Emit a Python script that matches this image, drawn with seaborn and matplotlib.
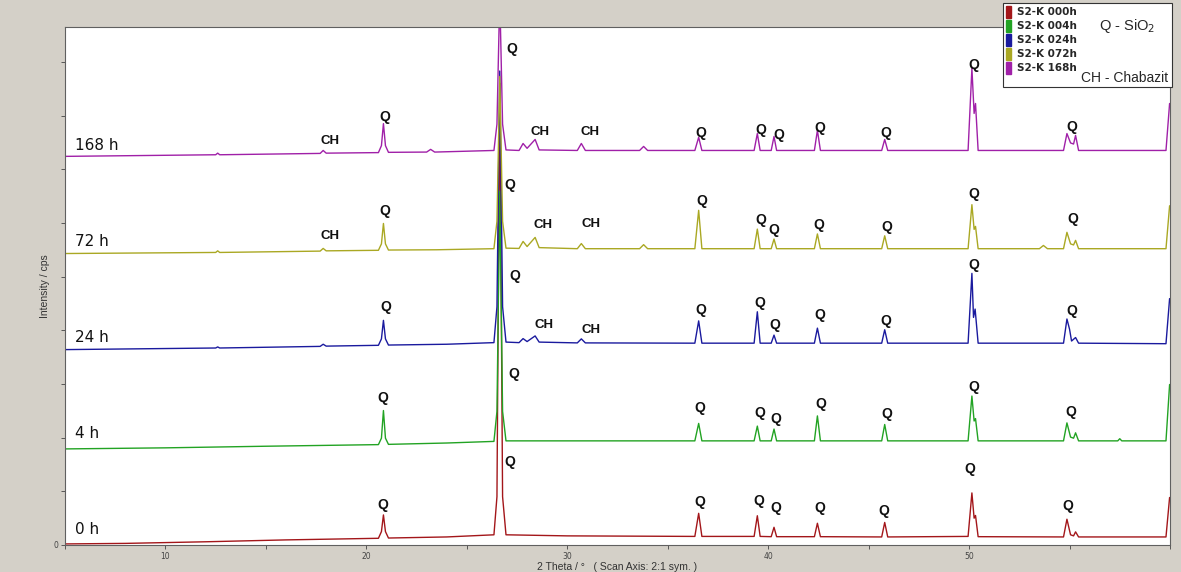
import matplotlib
matplotlib.use("Agg")
import matplotlib.pyplot as plt
from matplotlib.patches import Patch, Rectangle
from matplotlib.ticker import MultipleLocator, FixedLocator
import seaborn as sns
import pandas as pd

##################
# data ###########
##################

samples = ["0 h", "4 h", "24 h", "72 h", "168 h"]
legend_names = ["S2-K 000h", "S2-K 004h", "S2-K 024h", "S2-K 072h", "S2-K 168h"]
colors = ["#a3161a", "#22a323", "#1a1a9e", "#aaa823", "#a020a8"]
offsets = [0, 1790, 3640, 5430, 7240]   # stacking of the patterns, cps

# 2 theta / intensity above the own baseline
tt_000 = [5.0, 8, 12, 16, 20.6, 20.75, 20.85, 20.95, 21.1, 24, 26.35, 26.5, 26.64, 26.78, 26.95, 30,
          36.35, 36.54, 36.7, 39.3, 39.46, 39.6, 40.15, 40.29, 40.42, 42.3, 42.45, 42.6, 45.65, 45.8, 45.95,
          49.95, 50.14, 50.25, 50.32, 50.45, 54.7, 54.87, 55.05, 55.2, 55.3, 55.45, 59.8, 59.98]
i_000 = [20, 30, 60, 95, 125, 250, 560, 250, 130, 150, 190, 900, 8600, 900, 190, 170,
         160, 590, 160, 160, 545, 160, 155, 330, 155, 155, 405, 155, 150, 420, 150,
         160, 970, 500, 550, 155, 150, 480, 190, 170, 245, 150, 150, 885]

tt_004 = [5.0, 10, 15, 20.6, 20.75, 20.85, 20.95, 21.1, 24, 26.35, 26.5, 26.64, 26.78, 26.95, 30,
          36.35, 36.54, 36.7, 39.3, 39.46, 39.6, 40.15, 40.29, 40.42, 42.3, 42.45, 42.6, 45.65, 45.8, 45.95,
          49.95, 50.14, 50.25, 50.32, 50.45, 54.7, 54.87, 55.05, 55.2, 55.3, 55.45, 57.4, 57.5, 57.6, 59.8, 59.98]
i_004 = [0, 20, 50, 80, 200, 715, 200, 85, 110, 140, 700, 4800, 700, 150, 150,
         150, 475, 150, 150, 425, 150, 150, 370, 150, 150, 615, 150, 150, 455, 150,
         150, 985, 520, 565, 150, 150, 485, 220, 200, 300, 150, 150, 190, 150, 150, 1200]

tt_024 = [5.0, 12.5, 12.6, 12.7, 17.7, 17.85, 18.0, 20.6, 20.75, 20.85, 20.95, 21.1, 24,
          26.35, 26.5, 26.64, 26.78, 26.95, 27.6, 27.8, 28.0, 28.4, 28.6, 30.5, 30.7, 30.9,
          36.35, 36.54, 36.7, 39.3, 39.46, 39.6, 40.15, 40.29, 40.42, 42.3, 42.45, 42.6, 45.65, 45.8, 45.95,
          49.95, 50.14, 50.22, 50.3, 50.45, 54.7, 54.87, 55.0, 55.1, 55.3, 55.45, 59.8, 59.98]
i_024 = [0, 30, 50, 30, 60, 100, 65, 80, 200, 545, 200, 85, 100,
         130, 800, 5190, 800, 140, 130, 205, 150, 255, 140, 125, 200, 125,
         120, 535, 120, 120, 705, 120, 120, 270, 120, 120, 400, 120, 120, 370, 120,
         120, 1420, 600, 755, 120, 120, 570, 380, 160, 225, 120, 110, 950]

tt_072 = [5.0, 12.5, 12.6, 12.7, 17.7, 17.85, 18.0, 20.6, 20.75, 20.85, 20.95, 21.1, 23.5,
          26.35, 26.5, 26.64, 26.78, 26.95, 27.6, 27.8, 28.0, 28.4, 28.6, 30.5, 30.7, 30.9, 33.6, 33.8, 34.0,
          36.35, 36.54, 36.7, 39.3, 39.46, 39.6, 40.15, 40.29, 40.42, 42.3, 42.45, 42.6, 45.65, 45.8, 45.95,
          49.95, 50.14, 50.25, 50.32, 50.45, 53.5, 53.7, 53.9, 54.7, 54.87, 55.05, 55.2, 55.3, 55.45, 59.8, 59.98]
i_072 = [0, 20, 50, 20, 45, 95, 50, 60, 180, 560, 180, 65, 70,
         90, 600, 3300, 600, 100, 95, 225, 130, 300, 110, 90, 185, 90, 90, 165, 90,
         90, 805, 90, 90, 455, 90, 90, 270, 90, 90, 365, 90, 90, 330, 90,
         90, 910, 450, 505, 90, 90, 150, 90, 90, 395, 180, 160, 245, 90, 90, 890]

tt_168 = [5.0, 12.5, 12.6, 12.7, 17.7, 17.85, 18.0, 20.6, 20.75, 20.85, 20.95, 21.1, 23.0, 23.2, 23.4,
          26.35, 26.5, 26.64, 26.78, 26.95, 27.6, 27.8, 28.0, 28.4, 28.6, 30.5, 30.7, 30.9, 33.6, 33.8, 34.0,
          36.35, 36.54, 36.7, 39.3, 39.46, 39.6, 40.15, 40.29, 40.42, 42.3, 42.45, 42.6, 45.65, 45.8, 45.95,
          49.95, 50.14, 50.25, 50.32, 50.45, 54.7, 54.87, 55.05, 55.2, 55.3, 55.45, 59.8, 59.98]
i_168 = [0, 30, 60, 30, 55, 110, 60, 70, 200, 610, 200, 75, 80, 130, 80,
         110, 600, 3000, 600, 120, 110, 240, 150, 315, 120, 110, 240, 110, 110, 185, 110,
         110, 355, 110, 110, 425, 110, 110, 370, 110, 110, 485, 110, 110, 315, 110,
         110, 1640, 800, 985, 110, 110, 425, 250, 230, 390, 110, 110, 985]

two_theta = [tt_000, tt_004, tt_024, tt_072, tt_168]
intensity = [i_000, i_004, i_024, i_072, i_168]

x_ticks = [10, 20, 30, 40, 50]

# peak labels: (text, x px, y px) as placed on the original scan
peak_labels = [
    ("Q", 383, 505), ("Q", 510, 462), ("Q", 700, 502), ("Q", 759, 501), ("Q", 776, 508),
    ("Q", 820, 508), ("Q", 884, 511), ("Q", 970, 469), ("Q", 1068, 506),
    ("Q", 383, 398), ("Q", 514, 374), ("Q", 700, 408), ("Q", 760, 413), ("Q", 776, 419),
    ("Q", 821, 404), ("Q", 887, 414), ("Q", 974, 387), ("Q", 1071, 412),
    ("Q", 386, 307), ("Q", 515, 276), ("Q", 701, 310), ("Q", 760, 303), ("Q", 775, 325),
    ("Q", 820, 315), ("Q", 886, 321), ("Q", 974, 265), ("Q", 1072, 311), ("CH", 544, 325), ("CH", 591, 330),
    ("Q", 385, 211), ("Q", 510, 185), ("Q", 702, 201), ("Q", 761, 220), ("Q", 774, 230),
    ("Q", 819, 225), ("Q", 887, 227), ("Q", 974, 194), ("Q", 1073, 219),
    ("CH", 330, 236), ("CH", 543, 225), ("CH", 591, 224),
    ("Q", 385, 117), ("Q", 512, 49), ("Q", 701, 133), ("Q", 761, 130), ("Q", 779, 135),
    ("Q", 820, 128), ("Q", 886, 133), ("Q", 974, 65), ("Q", 1072, 127),
    ("CH", 330, 141), ("CH", 540, 132), ("CH", 590, 132),
]
sample_label_px = [(75, 529), (75, 433), (75, 338), (75, 242), (75, 146)]

##################
# frame ##########
##################

rows = []
for name, off, xs, ys in zip(samples, offsets, two_theta, intensity):
    for x, y in zip(xs, ys):
        rows.append({"sample": name, "two_theta": x, "cps": y + off})
df = pd.DataFrame(rows)

##################
# plot ###########
##################

sns.set_style("ticks")
plt.rcParams["font.family"] = ["DejaVu Sans"]

W, H = 1181, 572
fig = plt.figure(figsize=(W / 100, H / 100), dpi=100)
fig.patch.set_facecolor("#d4d0c8")
ax = fig.add_axes([65 / W, 1 - 545 / H, (1170 - 65) / W, (545 - 27) / H])
ax.set_facecolor("white")

sns.lineplot(data=df, x="two_theta", y="cps", hue="sample", hue_order=samples,
             palette=colors, estimator=None, sort=False, legend=False, linewidth=1.0, ax=ax)

ax.set_xlim(5, 60)
ax.set_ylim(0, 9650)
ax.xaxis.set_major_locator(FixedLocator(x_ticks))
ax.xaxis.set_minor_locator(MultipleLocator(5))
ax.yaxis.set_major_locator(MultipleLocator(1000))
ax.set_yticklabels(["0" if t == 0 else "" for t in ax.get_yticks()])
ax.tick_params(axis="both", which="both", direction="out", length=3, width=0.6,
               labelsize=5.5, colors="#444444", pad=2)
for s in ax.spines.values():
    s.set_color("#606060")
    s.set_linewidth(0.8)

ax.set_xlabel("2 Theta / °   ( Scan Axis: 2:1 sym. )", family=["Liberation Sans"], fontsize=7.5,
              color="#333333", labelpad=1)
ax.set_ylabel("Intensity / cps", family=["Liberation Sans"], fontsize=7.5, color="#333333", labelpad=2)

inv = ax.transData.inverted()
for txt, px, py in peak_labels:
    x, y = inv.transform((px, H - py))
    ax.text(x, y, txt, ha="center", va="center", fontsize=10 if txt == "Q" else 9.5,
            fontweight="bold", family=["Liberation Sans"], color="#111111")

for name, (px, py) in zip(samples, sample_label_px):
    x, y = inv.transform((px, H - py))
    ax.text(x, y, name, ha="left", va="center", fontsize=11, color="#111111")

# legend box in the top right corner
box = Rectangle((1003 / W, 1 - 87 / H), 169 / W, 84 / H, transform=fig.transFigure,
                facecolor="white", edgecolor="#333333", linewidth=0.8, zorder=5)
fig.patches.append(box)
handles = [Patch(facecolor=c, edgecolor=c) for c in colors]
leg = fig.legend(handles, legend_names, loc="upper left", bbox_to_anchor=(1004 / W, 1 - 4 / H),
                 frameon=False, prop={"weight": "bold", "size": 7.5},
                 handlelength=0.45, handleheight=1.35, handletextpad=0.6,
                 labelspacing=0.22, borderpad=0.2, borderaxespad=0)
leg.set_zorder(6)
fig.text(1127 / W, 1 - 26 / H, "Q - SiO$_2$", ha="center", va="center", fontsize=10.5,
         family=["Liberation Sans"], zorder=7)
fig.text(1168 / W, 1 - 78 / H, "CH - Chabazit", ha="right", va="center", fontsize=10,
         family=["Liberation Sans"], zorder=7)

fig.savefig("out.png", dpi=100, facecolor=fig.get_facecolor())
